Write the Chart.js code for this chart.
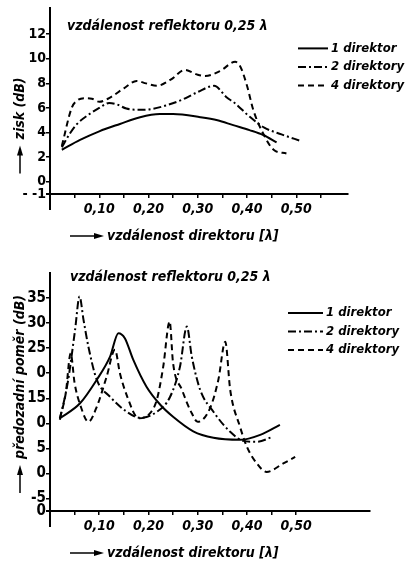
<!DOCTYPE html>
<html>
<head>
<meta charset="utf-8">
<script src="https://cdn.jsdelivr.net/npm/chart.js@4/dist/chart.umd.min.js"></script>
<style>
  body { margin: 0; background: #fff; width: 408px; height: 569px; overflow: hidden; }
  .box { position: absolute; left: 0; width: 408px; }
  #gainBox { top: 0; }
  #ratioBox { top: 262px; }
</style>
</head>
<body>
<div class="box" id="gainBox"><canvas id="gainChart" width="408" height="262"></canvas></div>
<div class="box" id="ratioBox"><canvas id="ratioChart" width="408" height="307"></canvas></div>
<script>
// director spacing [lambda] and gain [dB], reflector spacing 0.25 lambda
const gainX1 = [0.024, 0.061, 0.10, 0.142, 0.183, 0.223, 0.25, 0.305, 0.34, 0.372, 0.405, 0.433, 0.46];
const gainY1 = [2.6, 3.4, 4.1, 4.7, 5.25, 5.5, 5.5, 5.25, 5.0, 4.6, 4.2, 3.8, 3.2];

const gainX2 = [0.024, 0.04, 0.055, 0.08, 0.10, 0.12, 0.135, 0.155, 0.18, 0.205, 0.235, 0.27, 0.30, 0.333, 0.359, 0.375, 0.405, 0.435, 0.47, 0.51];
const gainY2 = [2.8, 3.9, 4.7, 5.5, 6.0, 6.4, 6.3, 5.95, 5.85, 5.9, 6.2, 6.7, 7.3, 7.8, 6.85, 6.4, 5.3, 4.4, 3.85, 3.3];

const gainX4 = [0.024, 0.044, 0.055, 0.071, 0.085, 0.10, 0.12, 0.15, 0.176, 0.195, 0.217, 0.245, 0.274, 0.30, 0.315, 0.345, 0.376, 0.386, 0.40, 0.413, 0.433, 0.454, 0.48];
const gainY4 = [2.9, 6.0, 6.6, 6.8, 6.75, 6.5, 6.8, 7.6, 8.2, 8.0, 7.8, 8.3, 9.1, 8.7, 8.6, 9.0, 9.75, 9.4, 7.8, 5.8, 3.9, 2.6, 2.3];

// front-to-back ratio [dB]
const ratioX1 = [0.02, 0.061, 0.095, 0.122, 0.139, 0.152, 0.169, 0.196, 0.224, 0.25, 0.291, 0.332, 0.386, 0.427, 0.467];
const ratioY1 = [11, 14, 18.7, 23.3, 28, 27, 22.7, 17.3, 13.7, 11.3, 8.4, 7.1, 6.7, 7.7, 9.7];

const ratioX2 = [0.02, 0.037, 0.051, 0.06, 0.068, 0.078, 0.095, 0.122, 0.156, 0.183, 0.217, 0.244, 0.264, 0.278, 0.288, 0.305, 0.332, 0.366, 0.393, 0.42, 0.452];
const ratioY2 = [10.7, 18.7, 28.7, 35.3, 30.7, 25.3, 18.7, 15.3, 12.3, 11.1, 12.3, 15.3, 21.3, 29.3, 23.3, 16.7, 12.3, 8.3, 6.5, 6.3, 7.3];

const ratioX4 = [0.02, 0.032, 0.042, 0.05, 0.062, 0.078, 0.095, 0.115, 0.132, 0.142, 0.157, 0.18, 0.203, 0.217, 0.23, 0.243, 0.25, 0.268, 0.288, 0.30, 0.325, 0.342, 0.356, 0.366, 0.386, 0.40, 0.42, 0.44, 0.474, 0.498];
const ratioY4 = [11, 16, 24, 18, 13.5, 10.3, 13.3, 19.3, 24.7, 20, 15.3, 11, 12, 14.7, 21.3, 30.3, 22, 16.7, 12, 10.3, 13, 18.7, 26.3, 16.7, 9.3, 5.3, 2, 0.3, 2, 3.3];

// axis ticks
const gainXTicks = [0.05, 0.10, 0.15, 0.20, 0.25, 0.30, 0.35, 0.40, 0.45, 0.50, 0.55];
const ratioXTicks = [0.05, 0.10, 0.15, 0.20, 0.25, 0.30, 0.35, 0.40, 0.45, 0.50];
const xTickLabels = ['', '0,10', '', '0,20', '', '0,30', '', '0,40', '', '0,50', ''];
const gainYTicks = [-1, 0, 2, 4, 6, 8, 10, 12];
const gainYTickLabels = ['- -1', '0', '2', '4', '6', '8', '10', '12'];
const ratioYTicks = [-7.5, -5, 0, 5, 10, 15, 20, 25, 30, 35];
const ratioYTickLabels = ['0', '-5', '0', '5', '0', '15', '0', '25', '30', '35'];

const seriesNames = ['1 direktor', '2 direktory', '4 direktory'];

const FAMILY = '"DejaVu Sans Condensed", "DejaVu Sans", sans-serif';
const TEXT_FONT = 'italic bold 14px ' + FAMILY;
const LEGEND_FONT = 'italic bold 13px ' + FAMILY;

const styles = [
  { borderDash: [] },
  { borderDash: [8, 3, 2, 3] },
  { borderDash: [6, 4] }
];

function points(xs, ys) {
  return xs.map((x, i) => ({ x: x, y: ys[i] }));
}

function makeDatasets(series) {
  return series.map((s, i) => ({
    label: seriesNames[i],
    data: points(s[0], s[1]),
    borderColor: '#000',
    borderWidth: 2,
    borderDash: styles[i].borderDash,
    pointRadius: 0,
    fill: false,
    cubicInterpolationMode: 'monotone'
  }));
}

function drawArrow(ctx, len) {
  // arrow along +x from 0 to len
  ctx.lineWidth = 1.5;
  ctx.beginPath();
  ctx.moveTo(0, 0);
  ctx.lineTo(len - 8, 0);
  ctx.stroke();
  ctx.beginPath();
  ctx.moveTo(len, 0);
  ctx.lineTo(len - 10, -3);
  ctx.lineTo(len - 10, 3);
  ctx.closePath();
  ctx.fill();
}

// caption, legend and axis titles
const decor = {
  id: 'decor',
  afterDraw(chart, args, opts) {
    const ctx = chart.ctx;
    const a = chart.chartArea;
    ctx.save();
    ctx.fillStyle = '#000';
    ctx.strokeStyle = '#000';
    ctx.textBaseline = 'middle';
    ctx.textAlign = 'left';

    // axis stubs past the origin
    ctx.lineWidth = 2;
    ctx.beginPath();
    ctx.moveTo(a.left, a.bottom);
    ctx.lineTo(a.left, a.bottom + 16);
    ctx.moveTo(a.left - 4, a.bottom);
    ctx.lineTo(a.left, a.bottom);
    ctx.stroke();

    ctx.font = TEXT_FONT;
    ctx.fillText(opts.caption, a.left + opts.captionX, a.top + opts.captionY);

    ctx.font = LEGEND_FONT;
    chart.data.datasets.forEach((ds, i) => {
      const y = a.top + 40 + i * 18.5;
      ctx.lineWidth = 2;
      ctx.setLineDash(ds.borderDash);
      ctx.beginPath();
      ctx.moveTo(opts.legendX, y);
      ctx.lineTo(opts.legendX + opts.legendLen, y);
      ctx.stroke();
      ctx.setLineDash([]);
      ctx.fillText(ds.label, opts.legendX + opts.legendLen + 3, y);
    });

    ctx.font = TEXT_FONT;
    // x title
    ctx.save();
    ctx.translate(a.left + 20, a.bottom + 42);
    drawArrow(ctx, 34);
    ctx.fillText(opts.xTitle, 37, 0);
    ctx.restore();

    // y title, reading upwards
    ctx.save();
    ctx.translate(20, a.top + opts.yTitleBase);
    ctx.rotate(-Math.PI / 2);
    drawArrow(ctx, 28);
    ctx.fillText(opts.yTitle, 34, 0);
    ctx.restore();

    ctx.restore();
  }
};

function makeChart(id, series, cfg) {
  return new Chart(document.getElementById(id), {
    type: 'line',
    data: { datasets: makeDatasets(series) },
    plugins: [decor],
    options: {
      responsive: false,
      animation: false,
      devicePixelRatio: 1,
      layout: { padding: { top: cfg.top, right: cfg.right, left: 0, bottom: 0 } },
      plugins: {
        legend: { display: false },
        tooltip: { enabled: false },
        decor: cfg.decor
      },
      scales: {
        x: {
          type: 'linear',
          min: 0,
          max: cfg.xMax,
          border: { color: '#000', width: 2 },
          grid: { drawOnChartArea: false, drawTicks: true, tickLength: 4, color: '#000', lineWidth: 1.5 },
          afterBuildTicks: s => { s.ticks = cfg.xTicks.map(v => ({ value: v })); },
          afterFit: s => { s.height = cfg.xHeight; },
          ticks: {
            autoSkip: false,
            maxRotation: 0,
            padding: 3,
            color: '#000',
            font: { family: FAMILY, size: 14, style: 'italic', weight: 'bold' },
            callback: (v, i) => xTickLabels[i]
          }
        },
        y: {
          min: cfg.yMin,
          max: cfg.yMax,
          border: { color: '#000', width: 2 },
          grid: { drawOnChartArea: false, drawTicks: true, tickLength: 4, color: '#000', lineWidth: 1.5 },
          afterBuildTicks: s => { s.ticks = cfg.yTicks.map(v => ({ value: v })); },
          afterFit: s => { s.width = 50; },
          ticks: {
            autoSkip: false,
            padding: 0,
            color: '#000',
            font: { family: FAMILY, size: cfg.yFont, weight: 'bold' },
            callback: (v, i) => cfg.yTickLabels[i]
          }
        }
      }
    }
  });
}

makeChart('gainChart', [[gainX1, gainY1], [gainX2, gainY2], [gainX4, gainY4]], {
  top: 5, right: 60, xMax: 0.605, xHeight: 68, xTicks: gainXTicks,
  yMin: -1, yMax: 14.1, yTicks: gainYTicks, yTickLabels: gainYTickLabels, yFont: 14,
  decor: {
    caption: 'vzdálenost reflektoru 0,25 λ', captionX: 17, captionY: 18,
    legendX: 298, legendLen: 30,
    xTitle: 'vzdálenost direktoru [λ]',
    yTitle: 'zisk (dB)', yTitleBase: 165
  }
});

makeChart('ratioChart', [[ratioX1, ratioY1], [ratioX2, ratioY2], [ratioX4, ratioY4]], {
  top: 11, right: 38, xMax: 0.65, xHeight: 58, xTicks: ratioXTicks,
  yMin: -7.5, yMax: 40, yTicks: ratioYTicks, yTickLabels: ratioYTickLabels, yFont: 15,
  decor: {
    caption: 'vzdálenost reflektoru 0,25 λ', captionX: 20, captionY: 4,
    legendX: 288, legendLen: 35,
    xTitle: 'vzdálenost direktoru [λ]',
    yTitle: 'předozadní poměr (dB)', yTitleBase: 220
  }
});
</script>
</body>
</html>
